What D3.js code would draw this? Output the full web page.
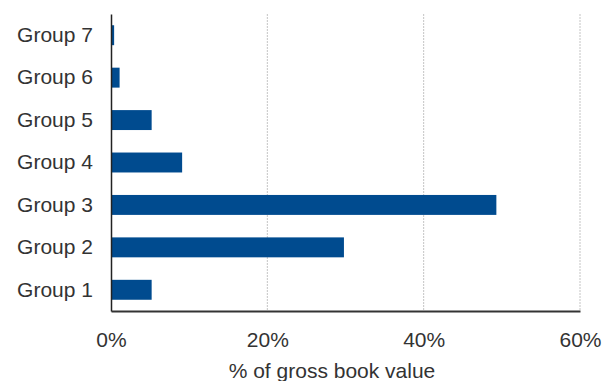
<!DOCTYPE html>
<html>
<head>
<meta charset="utf-8">
<script src="https://cdn.jsdelivr.net/npm/d3@7"></script>
<style>
  html, body { margin: 0; padding: 0; background: #fff; }
  svg { display: block; font-family: "Liberation Sans", Arial, sans-serif; }
</style>
</head>
<body>
<svg id="chart" width="603" height="381"></svg>
<script>
// Share of gross book value by group
const categories = ["Group 1", "Group 2", "Group 3", "Group 4", "Group 5", "Group 6", "Group 7"];
const values = [5.2, 29.8, 49.3, 9.1, 5.2, 1.1, 0.4];
const xTicks = [0, 20, 40, 60];
const xTitle = "% of gross book value";

const svg = d3.select("#chart");
const margin = { left: 111, right: 23, top: 14, bottom: 70 };
const W = 603, H = 381;
const plotW = W - margin.left - margin.right;
const plotH = H - margin.top - margin.bottom;

const x = d3.scaleLinear().domain([0, 60]).range([0, plotW]);
const y = d3.scaleBand()
  .domain(categories.slice().reverse())
  .range([0, plotH])
  .paddingInner(0.53)
  .paddingOuter(0.265);

const g = svg.append("g").attr("transform", `translate(${margin.left},${margin.top})`);

// Vertical gridlines
g.append("g")
  .selectAll("line")
  .data(xTicks.filter(t => t > 0))
  .join("line")
  .attr("x1", d => x(d)).attr("x2", d => x(d))
  .attr("y1", 0).attr("y2", plotH)
  .attr("stroke", "#c4c4c4")
  .attr("stroke-width", 1)
  .attr("stroke-dasharray", "2,1");

// Bars
g.append("g")
  .selectAll("rect")
  .data(categories.map((c, i) => ({ c, v: values[i] })))
  .join("rect")
  .attr("x", 0)
  .attr("y", d => y(d.c))
  .attr("width", d => x(d.v))
  .attr("height", y.bandwidth())
  .attr("fill", "#004b8f");

// X axis
const xAxis = g.append("g")
  .attr("transform", `translate(0,${plotH})`)
  .call(d3.axisBottom(x).tickValues(xTicks).tickFormat(d => d + "%").tickSize(0).tickPadding(21));
xAxis.select(".domain").attr("stroke", "#333").attr("stroke-width", 2);
xAxis.selectAll("text")
  .attr("font-size", 21)
  .attr("fill", "#333")
  .attr("font-family", "Liberation Sans, Arial, sans-serif");

// Y axis
const yAxis = g.append("g")
  .call(d3.axisLeft(y).tickSize(0).tickPadding(18));
yAxis.select(".domain").attr("stroke", "#222").attr("stroke-width", 1.5);
yAxis.selectAll("text")
  .attr("font-size", 21)
  .attr("fill", "#333")
  .attr("font-family", "Liberation Sans, Arial, sans-serif");

// Axis title
svg.append("text")
  .attr("x", 332)
  .attr("y", 378)
  .attr("text-anchor", "middle")
  .attr("font-size", 21)
  .attr("fill", "#333")
  .text(xTitle);
</script>
</body>
</html>
